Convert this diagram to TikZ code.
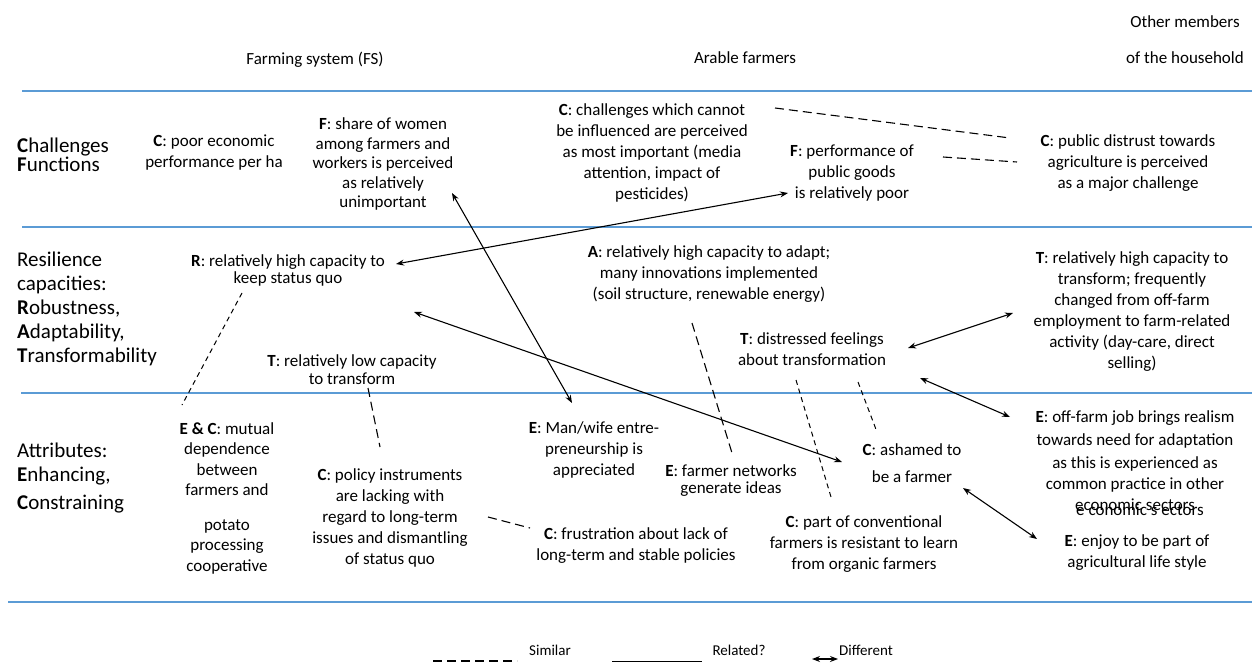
\documentclass[tikz,border=0pt]{standalone}
\usepackage{fontspec}
\setmainfont{Carlito}
\usetikzlibrary{calc, arrows.meta}
\definecolor{rulecol}{RGB}{91,155,213}

\begin{document}
\begin{tikzpicture}[x=1pt, y=-1pt,
    txt/.style={align=center, inner sep=0pt, font=\fontsize{17}{21}\selectfont},
    rowlabel/.style={align=left, anchor=west, inner sep=0pt, font=\fontsize{21}{24}\selectfont},
    header/.style={inner sep=0pt, font=\fontsize{17}{21}\selectfont},
    legendtxt/.style={inner sep=0pt, font=\fontsize{15}{18}\selectfont},
    rule/.style={draw=rulecol, line width=1.3pt},
    diff/.style={{Stealth[length=8pt,width=6pt]}-{Stealth[length=8pt,width=6pt]}, line width=1.1pt},
    similar/.style={dash pattern=on 9pt off 5pt, line width=1.1pt},
    related/.style={dash pattern=on 5pt off 4pt, line width=1pt}]
        \useasboundingbox (0,0) rectangle (1252,663);

        % Column heads
        \node[header] (hfs) at (315,60) {Farming system (FS)};
        \node[header] (harable) at (745,58) {Arable farmers};
        \node[header, align=center, font=\fontsize{17}{36}\selectfont] (hother) at (1185,40) {Other members\\of the household};

        % Blue rules between rows
        \draw[rule] (22,91) -- (1252,91);
        \draw[rule] (22,227) -- (1252,227);
        \draw[rule] (21,393) -- (1252,393);
        \draw[rule] (8,602) -- (1252,602);

        % Row labels
        \node[rowlabel, font=\fontsize{21}{18}\selectfont] (rowcf) at (17,155) {\textbf{C}hallenges\\\textbf{F}unctions};
        \node[rowlabel] (rowrc) at (17,309) {Resilience\\capacities:\\\textbf{R}obustness,\\\textbf{A}daptability,\\\textbf{T}ransformability};
        \node[rowlabel] (rowat) at (17,478) {Attributes:\\\textbf{E}nhancing,\\[4pt]\textbf{C}onstraining};

        % Challenges / functions
        \node[txt] (poor) at (214,153) {\textbf{C}: poor economic\\performance per ha};
        \node[txt, font=\fontsize{17}{19.5}\selectfont] (women) at (383,164) {\textbf{F}: share of women\\among farmers and\\workers is perceived\\as relatively\\unimportant};
        \node[txt] (chall) at (652,153) {\textbf{C}: challenges which cannot\\be influenced are perceived\\as most important (media\\attention, impact of\\pesticides)};
        \node[txt] (perf) at (852,173) {\textbf{F}: performance of\\public goods\\is relatively poor};
        \node[txt] (distrust) at (1128,163) {\textbf{C}: public distrust towards\\agriculture is perceived\\as a major challenge};

        % Resilience capacities
        \node[txt, font=\fontsize{17}{17}\selectfont] (rsq) at (288,270) {\textbf{R}: relatively high capacity to\\keep status quo};
        \node[txt] (adapt) at (709,274) {\textbf{A}: relatively high capacity to adapt;\\many innovations implemented\\(soil structure, renewable energy)};
        \node[txt] (ttrans) at (1132,312) {\textbf{T}: relatively high capacity to\\transform; frequently\\changed from off-farm\\employment to farm-related\\activity (day-care, direct\\selling)};
        \node[txt] (tdis) at (812,349) {\textbf{T}: distressed feelings\\about transformation};
        \node[txt, font=\fontsize{17}{18}\selectfont] (tlow) at (352,370) {\textbf{T}: relatively low capacity\\to transform};

        % Attributes
        \node[txt, font=\fontsize{17}{20.5}\selectfont] (ec) at (227,498) {\textbf{E \& C}: mutual\\dependence\\between\\farmers and\\[14pt]potato\\processing\\cooperative};
        \node[txt] (policy) at (390,518) {\textbf{C}: policy instruments\\are lacking with\\regard to long-term\\issues and dismantling\\of status quo};
        \node[txt] (manwife) at (594,450) {\textbf{E}: Man/wife entre-\\preneurship is\\appreciated};
        \node[txt, font=\fontsize{17}{17}\selectfont] (networks) at (731,481) {\textbf{E}: farmer networks\\generate ideas};
        \node[txt] (ashamed) at (912,463) {\textbf{C}: ashamed to\\[6pt]be a farmer};
        \node[txt] (frustr) at (636,546) {\textbf{C}: frustration about lack of\\long-term and stable policies};
        \node[txt] (convent) at (864,544) {\textbf{C}: part of conventional\\farmers is resistant to learn\\from organic farmers};
        \node[txt] (offfarm) at (1135,461) {\textbf{E}: off-farm job brings realism\\[2pt]towards need for adaptation\\[2pt]as this is experienced as\\common practice in other\\economic sectors};
        \node[txt] (echo) at (1140,510) {e conomic s ectors};
        \node[txt] (enjoy) at (1137,553) {\textbf{E}: enjoy to be part of\\agricultural life style};

        % Different
        \draw[diff] ($(rsq)+(108,-6)$) -- ($(perf)+(-64,20)$);
        \draw[diff] ($(women)+(69,29)$) -- ($(manwife)+(-22,-47)$);
        \draw[diff] ($(rsq)+(126,42)$) -- ($(ashamed)+(-70,-1)$);
        \draw[diff] ($(tdis)+(96,-1)$) -- ($(ttrans)+(-119,1)$);
        \draw[diff] ($(tdis)+(108,29)$) -- ($(offfarm)+(-125,-44)$);
        \draw[diff] ($(ashamed)+(51,25)$) -- ($(enjoy)+(-100,-14)$);

        % Similar
        \draw[similar] ($(chall)+(123,-45)$) -- ($(distrust)+(-118,-25)$);
        \draw[similar] ($(perf)+(91,-16)$) -- ($(distrust)+(-111,-1)$);
        \draw[similar] ($(adapt)+(-17,49)$) -- ($(networks)+(1,-28)$);
        \draw[similar] ($(tlow)+(16,18)$) -- ($(policy)+(-10,-71)$);
        \draw[similar] ($(policy)+(98,-1)$) -- ($(frustr)+(-106,-18)$);

        % Related?
        \draw[related] ($(rsq)+(-46,23)$) -- ($(ec)+(-45,-93)$);
        \draw[related] ($(tdis)+(-16,31)$) -- ($(convent)+(-33,-47)$);
        \draw[related] ($(tdis)+(46,33)$) -- ($(ashamed)+(-35,-31)$);

        % Legend
        \node[legendtxt] (lgsim) at (550,650) {Similar};
        \node[legendtxt] (lgrel) at (739,650) {Related?};
        \node[legendtxt] (lgdiff) at (866,650) {Different};
        \draw[similar] ($(lgsim)+(-117,11)$) -- ($(lgsim)+(-33,11)$);
        \draw[line width=1pt] ($(lgrel)+(-127,11)$) -- ($(lgrel)+(-37,11)$);
        \draw[diff] ($(lgdiff)+(-54,9)$) -- ($(lgdiff)+(-28,9)$);
\end{tikzpicture}
\end{document}
